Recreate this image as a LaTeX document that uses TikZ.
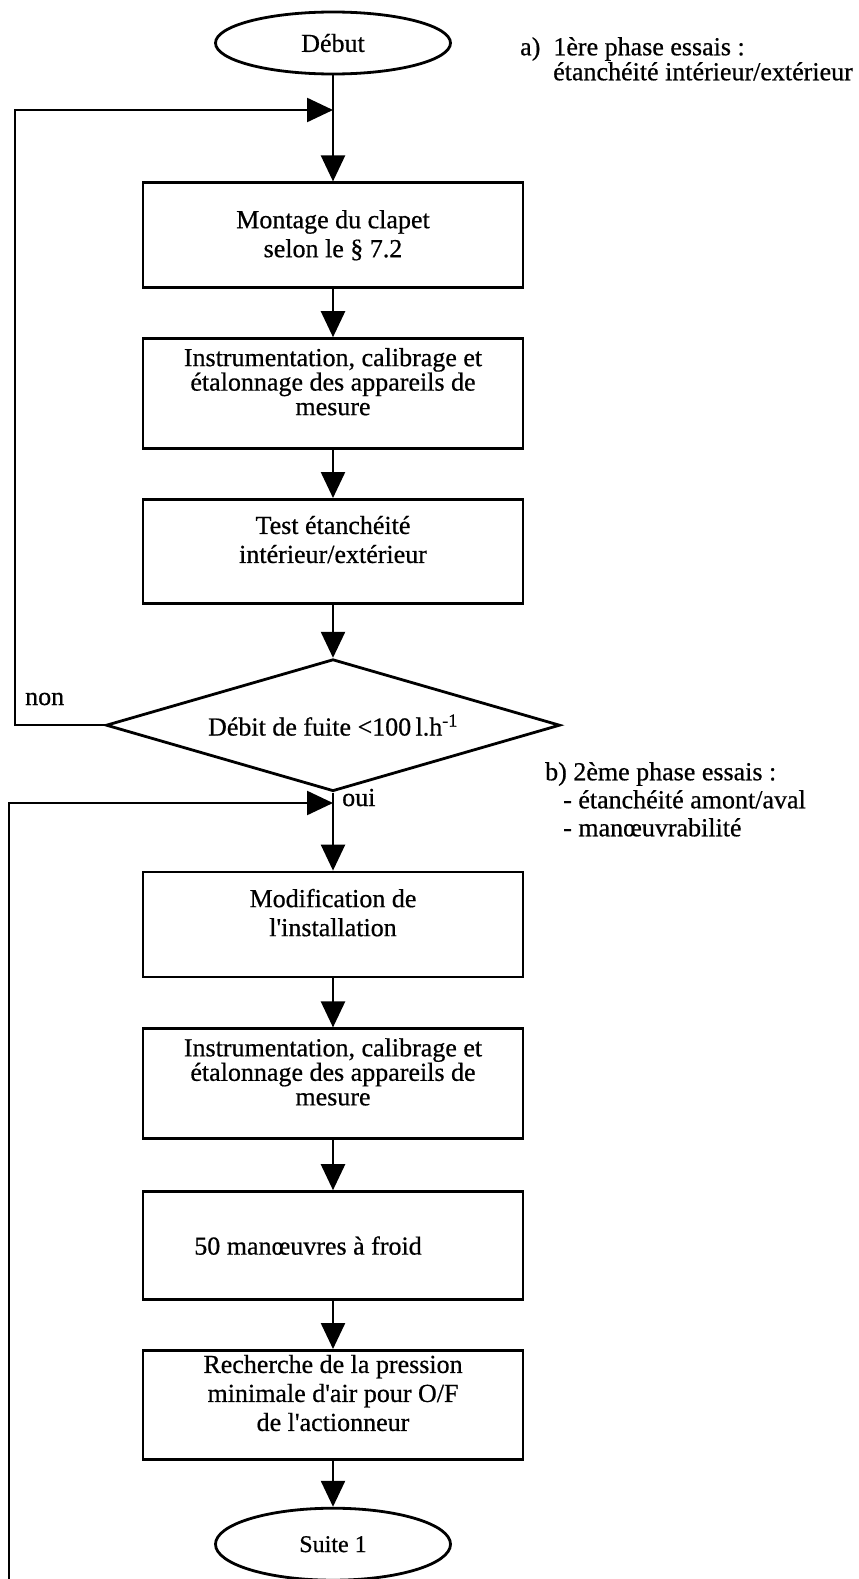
\documentclass[tikz,border=0pt]{standalone}
\usepackage{fontspec}
\setmainfont{Liberation Serif}[FakeBold=0.6]
\usetikzlibrary{shapes.geometric, arrows.meta, positioning, calc}

\begin{document}
\begin{tikzpicture}[
    x=1pt, y=-1pt,
    node distance=48pt,
    every node/.style={font=\fontsize{26}{29}\selectfont},
    stepbox/.style={rectangle, draw, line width=2.8pt, minimum width=380pt,
                    minimum height=105pt, align=center},
    tight/.style={minimum height=110pt, font=\fontsize{26}{24.5}\selectfont},
    lift/.style={text depth=24pt},
    terminal/.style={ellipse, draw, line width=2.8pt, minimum width=235pt,
                     minimum height=62pt},
    test/.style={diamond, draw, line width=2.8pt, aspect=3.4, inner sep=0pt,
                 minimum width=454pt, minimum height=132pt},
    note/.style={align=left, anchor=north west, inner sep=0pt,
                 font=\fontsize{26}{25}\selectfont},
    arrow/.style={-{Triangle[length=26pt, width=24pt]}, line width=2.4pt}
]
\useasboundingbox (0,0) rectangle (859,1579);

% Nodes
\node[terminal] (debut) at (333,43) {Début};
\node[stepbox, below=106pt of debut] (montage) {Montage du clapet\\selon le \S\ 7.2};
\node[stepbox, tight, lift, below=of montage] (instr1) {Instrumentation, calibrage et\\étalonnage des appareils de\\mesure};
\node[stepbox, lift, minimum height=104pt, below=of instr1] (etanch) {Test étanchéité\\intérieur/extérieur};
\node[test, below=53pt of etanch] (fuite) {Débit de fuite <100\,l.h\textsuperscript{-1}};
\node[stepbox, lift, below=78pt of fuite] (modif) {Modification de\\l\textquotesingle{}installation};
\node[stepbox, tight, lift, below=49pt of modif] (instr2) {Instrumentation, calibrage et\\étalonnage des appareils de\\mesure};
\node[stepbox, minimum height=108pt, below=50pt of instr2] (froid) {50 manœuvres à froid\hspace*{50pt}};
\node[stepbox, lift, minimum height=109pt, below=of froid] (pression) {Recherche de la pression\\minimale d\textquotesingle{}air pour O/F\\de l\textquotesingle{}actionneur};
\node[terminal, minimum height=72pt, below=46pt of pression, font=\fontsize{24}{28}\selectfont] (suite) {Suite 1};

% Labels
\node[anchor=base west, inner sep=0pt] (non) at (25,705) {non};
\node[anchor=base west, inner sep=0pt] (oui) at (342,806) {oui};
\node[note] (phasea) at (520,37) {a)\ \ 1ère phase essais :\\\hspace*{33pt}étanchéité intérieur/extérieur};
\node[note, font=\fontsize{26}{28}\selectfont] (phaseb) at (545,762) {b) 2ème phase essais :\\\hspace*{18pt}- étanchéité amont/aval\\\hspace*{18pt}- manœuvrabilité};

% Loop points
\coordinate (gauche1) at (15,110);
\coordinate (retour1) at (debut.south |- gauche1);
\coordinate (bas) at (9,1579);
\coordinate (gauche2) at (9,803);
\coordinate (retour2) at (fuite.south |- gauche2);

% Edges
\draw[arrow] (debut) -- (montage);
\draw[arrow] (montage) -- (instr1);
\draw[arrow] (instr1) -- (etanch);
\draw[arrow] (etanch) -- (fuite);
\draw[arrow] (fuite.south) -- (modif);
\draw[arrow] (modif) -- (instr2);
\draw[arrow] (instr2) -- (froid);
\draw[arrow] (froid) -- (pression);
\draw[arrow] (pression) -- (suite);
\draw[arrow] (fuite.west) -| (gauche1) -- (retour1);
\draw[arrow] (bas) -- (gauche2) -- (retour2);

\end{tikzpicture}
\end{document}
